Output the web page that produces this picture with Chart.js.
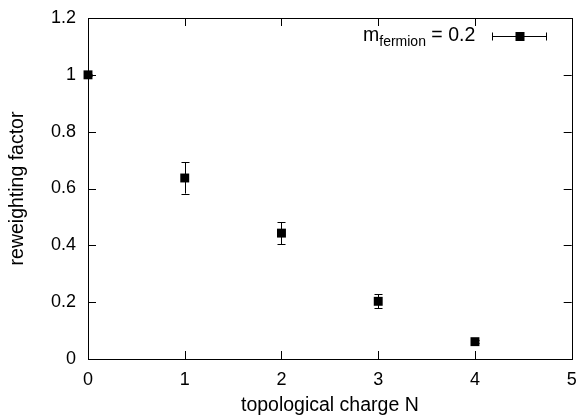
<!DOCTYPE html>
<html>
<head>
<meta charset="utf-8">
<script src="https://cdn.jsdelivr.net/npm/chart.js@4.4.0/dist/chart.umd.min.js"></script>
<style>
  html, body { margin: 0; padding: 0; background: #fff; }
  #wrap { width: 578px; height: 420px; }
</style>
</head>
<body>
<div id="wrap"><canvas id="myChart" width="578" height="420"></canvas></div>
<script>
// data
const charges = [0, 1, 2, 3, 4];
const factors = [1.0, 0.637, 0.443, 0.203, 0.061];
const errors = [0.004, 0.055, 0.039, 0.025, 0.005];
const xTicks = [0, 1, 2, 3, 4, 5];
const yTicks = [0, 0.2, 0.4, 0.6, 0.8, 1, 1.2];
const seriesLabel = 'm_fermion = 0.2';

const FONT = '"Liberation Sans", Arial, sans-serif';

// error bars + inner ticks (gnuplot look)
const plotExtras = {
    id: 'plotExtras',
    afterDatasetsDraw(chart) {
        const ctx = chart.ctx;
        const xs = chart.scales.x;
        const ys = chart.scales.y;
        const area = chart.chartArea;
        ctx.save();
        ctx.strokeStyle = '#000';
        ctx.lineWidth = 1;

        // error bars
        charges.forEach((c, i) => {
            const px = Math.round(xs.getPixelForValue(c)) + 0.5;
            const top = ys.getPixelForValue(factors[i] + errors[i]);
            const bot = ys.getPixelForValue(factors[i] - errors[i]);
            ctx.beginPath();
            ctx.moveTo(px, top); ctx.lineTo(px, bot);
            ctx.moveTo(px - 4, Math.round(top) + 0.5); ctx.lineTo(px + 4, Math.round(top) + 0.5);
            ctx.moveTo(px - 4, Math.round(bot) + 0.5); ctx.lineTo(px + 4, Math.round(bot) + 0.5);
            ctx.stroke();
        });

        // inner ticks on all four sides
        const len = 8;
        ctx.beginPath();
        xTicks.forEach(v => {
            const px = Math.round(xs.getPixelForValue(v)) + 0.5;
            ctx.moveTo(px, area.bottom); ctx.lineTo(px, area.bottom - len);
            ctx.moveTo(px, area.top); ctx.lineTo(px, area.top + len);
        });
        yTicks.forEach(v => {
            const py = Math.round(ys.getPixelForValue(v)) + 0.5;
            ctx.moveTo(area.left, py); ctx.lineTo(area.left + len, py);
            ctx.moveTo(area.right, py); ctx.lineTo(area.right - len, py);
        });
        ctx.stroke();

        // frame
        ctx.strokeRect(Math.round(area.left) + 0.5, Math.round(area.top) + 0.5,
            Math.round(area.right - area.left), Math.round(area.bottom - area.top));

        // key
        const kx = 363, ky = 36;
        ctx.fillStyle = '#000';
        ctx.textBaseline = 'alphabetic';
        ctx.textAlign = 'left';
        ctx.font = '19.5px ' + FONT;
        ctx.fillText('m', kx, ky + 5);
        let w = ctx.measureText('m').width;
        ctx.font = '14px ' + FONT;
        ctx.fillText('fermion', kx + w, ky + 10);
        w += ctx.measureText('fermion').width;
        ctx.font = '19.5px ' + FONT;
        ctx.fillText(' = 0.2', kx + w, ky + 5);

        const sx0 = 492, sx1 = 547, sy = ky + 0.5;
        ctx.beginPath();
        ctx.moveTo(sx0, sy); ctx.lineTo(sx1, sy);
        ctx.moveTo(sx0 + 0.5, sy - 4); ctx.lineTo(sx0 + 0.5, sy + 4);
        ctx.moveTo(sx1 - 0.5, sy - 4); ctx.lineTo(sx1 - 0.5, sy + 4);
        ctx.stroke();
        ctx.fillRect(515.5, sy - 4.5, 9, 9);
        ctx.restore();
    }
};

const ctx = document.getElementById('myChart').getContext('2d');
new Chart(ctx, {
    type: 'scatter',
    data: {
        datasets: [{
            label: seriesLabel,
            data: charges.map((c, i) => ({ x: c, y: factors[i] })),
            pointStyle: 'rect',
            pointRadius: 6.3,
            backgroundColor: '#000',
            borderColor: '#000',
            borderWidth: 0
        }]
    },
    options: {
        responsive: false,
        animation: false,
        clip: false,
        layout: { padding: { left: 0, top: 18, right: 6, bottom: 0 } },
        plugins: { legend: { display: false }, tooltip: { enabled: false } },
        scales: {
            x: {
                type: 'linear',
                min: 0, max: 5,
                afterBuildTicks: s => { s.ticks = xTicks.map(v => ({ value: v })); },
                afterFit: s => { s.height = 61; s.paddingLeft = 0; s.paddingRight = 0; },
                grid: { display: false, drawTicks: false },
                border: { display: false },
                ticks: { color: '#000', font: { family: FONT, size: 18 }, padding: 10 },
                title: { display: true, text: 'topological charge N', color: '#000',
                    font: { family: FONT, size: 19.5 }, padding: { top: 0, bottom: 3 } }
            },
            y: {
                type: 'linear',
                min: 0, max: 1.2,
                afterBuildTicks: s => { s.ticks = yTicks.map(v => ({ value: v })); },
                afterFit: s => { s.width = 88; s.paddingTop = 0; s.paddingBottom = 0; },
                grid: { display: false, drawTicks: false },
                border: { display: false },
                ticks: { color: '#000', font: { family: FONT, size: 18 }, padding: 12,
                    callback: v => String(v) },
                title: { display: true, text: 'reweighting factor', color: '#000',
                    font: { family: FONT, size: 19.5 }, padding: { top: 6, bottom: 4 } }
            }
        }
    },
    plugins: [plotExtras]
});
</script>
</body>
</html>
